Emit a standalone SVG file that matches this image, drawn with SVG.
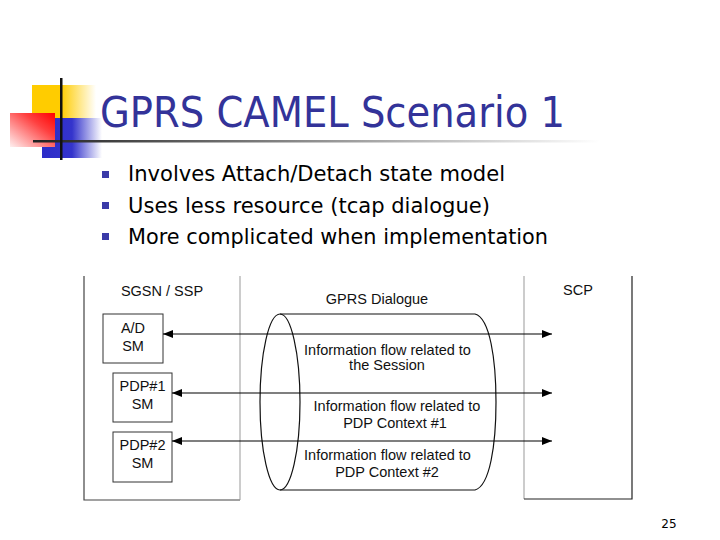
<svg xmlns="http://www.w3.org/2000/svg" width="720" height="540" viewBox="0 0 720 540">
<style>
.t{font-family:"Liberation Sans",Arial,sans-serif;font-size:14.5px;fill:#111;text-anchor:middle}
.b{font-family:"DejaVu Sans",Verdana,sans-serif;font-size:21px;fill:#000}
.box{fill:#fff;stroke:#333;stroke-width:1}
.ln{stroke:#111;stroke-width:1.2;fill:none}
.bul{fill:#3a3aa8}
</style>
<defs>
<linearGradient id="gy" x1="0" y1="0" x2="1" y2="0"><stop offset="0" stop-color="#ffcc00"/><stop offset="0.45" stop-color="#ffcc00"/><stop offset="1" stop-color="#ffffff"/></linearGradient>
<linearGradient id="gb" x1="0" y1="0" x2="1" y2="0"><stop offset="0" stop-color="#2c2cc8"/><stop offset="0.5" stop-color="#3434cc"/><stop offset="1" stop-color="#ffffff"/></linearGradient>
<linearGradient id="gr" x1="1" y1="0" x2="0" y2="1"><stop offset="0" stop-color="#ff0000"/><stop offset="0.35" stop-color="#ff4040"/><stop offset="1" stop-color="#fff0f0"/></linearGradient>
<linearGradient id="gl" x1="0" y1="0" x2="1" y2="0"><stop offset="0" stop-color="#222"/><stop offset="1" stop-color="#fff"/></linearGradient>
<marker id="ah" viewBox="0 0 10 8" refX="10" refY="4" markerWidth="10" markerHeight="8" markerUnits="userSpaceOnUse" orient="auto-start-reverse"><path d="M0,0 L10,4 L0,8 Z" fill="#000"/></marker>
</defs>
<rect width="720" height="540" fill="#fff"/>
<g id="logo">
<rect x="32" y="85" width="64" height="33" fill="url(#gy)"/>
<rect x="42" y="118" width="60" height="40" fill="url(#gb)"/>
<rect x="10" y="113" width="45" height="34" fill="url(#gr)"/>
<rect x="33" y="140" width="567" height="2.5" fill="url(#gl)"/>
<rect x="60" y="78" width="2.5" height="82" fill="#111"/>
</g>
<text id="title" x="100" y="127" font-family="DejaVu Sans,Verdana,sans-serif" font-size="43" fill="#333399" textLength="465" lengthAdjust="spacingAndGlyphs">GPRS CAMEL Scenario 1</text>
<g id="bullets">
<rect class="bul" x="102" y="171" width="7" height="7"/>
<rect class="bul" x="102" y="202" width="7" height="7"/>
<rect class="bul" x="102" y="233" width="7" height="7"/>
<text class="b" x="128" y="181" textLength="377" lengthAdjust="spacingAndGlyphs">Involves Attach/Detach state model</text>
<text class="b" x="128" y="212.5" textLength="362" lengthAdjust="spacingAndGlyphs">Uses less resource (tcap dialogue)</text>
<text class="b" x="128" y="244" textLength="420" lengthAdjust="spacingAndGlyphs">More complicated when implementation</text>
</g>
<g id="sgsn">
<path d="M84,276 V500 H240" fill="none" stroke="#444" stroke-width="1.2"/>
<path d="M240,276 V500" fill="none" stroke="#999" stroke-width="1"/>
<text class="t" x="162" y="296">SGSN / SSP</text>
</g>
<g id="scp">
<path d="M524,276 V499" fill="none" stroke="#999" stroke-width="1"/>
<path d="M632,276 V499 H524" fill="none" stroke="#222" stroke-width="1.2"/>
<text class="t" x="578" y="295">SCP</text>
</g>
<g id="adsm">
<rect class="box" x="103" y="314" width="60" height="49"/>
<text class="t" x="133" y="333">A/D</text>
<text class="t" x="133" y="351">SM</text>
</g>
<g id="pdp1">
<rect class="box" x="113" y="373" width="59" height="49"/>
<text class="t" x="142.5" y="391">PDP#1</text>
<text class="t" x="142.5" y="409">SM</text>
</g>
<g id="pdp2">
<rect class="box" x="113" y="432" width="59" height="50"/>
<text class="t" x="142.5" y="450">PDP#2</text>
<text class="t" x="142.5" y="468">SM</text>
</g>
<g id="dialogue">
<text class="t" x="377" y="304">GPRS Dialogue</text>
<path class="ln" d="M280,314 H475 C490,318 496,360 496,402 C496,444 490,486 475,490 H280"/>
<ellipse class="ln" cx="280" cy="402" rx="20" ry="88"/>
<text class="t" x="387.5" y="355">Information flow related to</text>
<text class="t" x="387" y="370">the Session</text>
<text class="t" x="397" y="411">Information flow related to</text>
<text class="t" x="395" y="428">PDP Context #1</text>
<text class="t" x="387.5" y="460">Information flow related to</text>
<text class="t" x="387" y="477">PDP Context #2</text>
</g>
<g id="connectors" stroke="#000" stroke-width="1.2">
<line x1="163" y1="334" x2="552" y2="334" marker-start="url(#ah)" marker-end="url(#ah)"/>
<line x1="172" y1="393" x2="552" y2="393" marker-start="url(#ah)" marker-end="url(#ah)"/>
<line x1="172" y1="441" x2="552" y2="441" marker-start="url(#ah)" marker-end="url(#ah)"/>
</g>
<text x="669" y="528" font-family="DejaVu Sans,Verdana,sans-serif" font-size="12" fill="#000" text-anchor="middle">25</text>
</svg>
